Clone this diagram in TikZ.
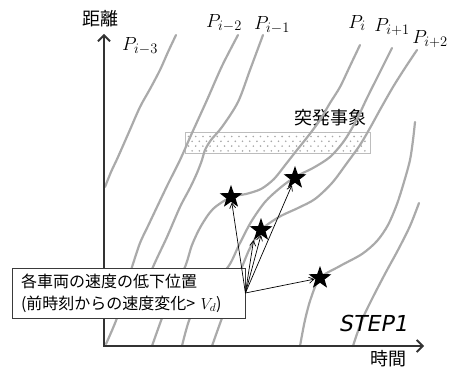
\RequirePackage{fix-cm}
\documentclass[tikz,border=0pt]{standalone}
\usepackage{fontspec}
\usepackage{tikz}
\usetikzlibrary{arrows.meta,calc,positioning,shapes.geometric}
\newfontfamily\jpfont{Noto Sans CJK JP}
\newfontfamily\stepfont[FakeSlant=0.2]{DejaVu Sans}
\DeclareMathSizes{19}{19}{14.5}{11}
\definecolor{axisgray}{HTML}{333333}
\definecolor{trackgray}{HTML}{AAAAAA}
\definecolor{eventgray}{HTML}{BDBDBD}
\definecolor{dotgray}{HTML}{A8A8A8}
\definecolor{notegray}{HTML}{3A3A3A}
\tikzset{
  axisline/.style={axisgray,line width=1.8pt,line join=miter,{Straight Barb[length=6pt,width=12pt]}-{Straight Barb[length=6pt,width=12pt]}},
  track/.style={trackgray,line width=2.2pt,line cap=round},
  eventbox/.style={eventgray,line width=0.8pt},
  eventdot/.style={dotgray},
  callout/.style={draw=notegray,fill=white,line width=0.8pt,align=left,text width=215pt,
    inner xsep=9pt,inner ysep=5pt,minimum height=50pt,font=\jpfont\fontsize{16}{22}\selectfont},
  marker/.style={star,star points=5,star point ratio=2.5,fill=black,minimum size=24pt,inner sep=0pt},
  pointer/.style={black,line width=0.7pt,-{Straight Barb[length=5pt,width=6pt]}},
  jplabel/.style={font=\jpfont\fontsize{18}{20}\selectfont,inner sep=0pt},
  plabel/.style={font=\fontsize{19}{22}\selectfont,inner sep=0pt}
}

\begin{document}
\begin{tikzpicture}[x=1pt,y=-1pt]
\useasboundingbox (0,0) rectangle (449,371);
\coordinate (origin) at (104,346);
\coordinate (ytip) at (104,34);
\coordinate (xtip) at (424,346);
% sudden event zone
\draw[eventbox] (185,132) rectangle (370,153);
\foreach \row in {0,...,3}
  \foreach \col in {0,...,24}
    \fill[eventdot] ({188.5+7.2*\col+3.6*mod(\row,2)},{136.5+4.8*\row}) circle (0.9);
\node[jplabel] (event) at (330,118) {突発事象};
% vehicle trajectories
\draw[track] plot[smooth] coordinates {(105,187) (111,172) (118,157) (129,132) (140,107) (150,89) (160,70) (168,52) (176,35)};
\draw[track] plot[smooth] coordinates {(106,344) (117,318) (124,292) (132,267) (140,243) (148,226) (157,207) (168,184) (180,160) (192,133) (207,100) (222,66) (238,35)};
\draw[track] plot[smooth] coordinates {(140,300) (153,267) (167,237) (180,207) (190,188) (197,173) (202,160) (205,150) (211,140) (222,127) (238,102) (250,70) (263,35)};
\draw[track] plot[smooth] coordinates {(152,346) (162,318) (172,292) (185,267) (192,245) (201,226) (213,209) (231,197) (246,194) (261,189) (274,179) (286,164) (297,150) (309,135) (320,120) (330,103) (340,87) (350,66) (360,45)};
\draw[track] plot[smooth] coordinates {(182,346) (190,318) (205,292) (228,267) (239,245) (251,222) (265,202) (280,188) (295,177) (313,168) (330,157) (344,141) (356,121) (367,98) (380,72) (392,48)};
\draw[track] plot[smooth] coordinates {(212,346) (222,318) (232,292) (242,267) (250,248) (261,230) (279,217) (298,208) (315,199) (332,183) (347,163) (360,145) (370,128) (381,108) (393,87) (405,68) (417,50)};
\draw[track] plot[smooth] coordinates {(300,346) (305,320) (311,298) (320,278) (340,266) (362,254) (377,241) (388,225) (397,204) (404,182) (410,160) (413,140) (415,122)};
\draw[track] plot[smooth] coordinates {(353,346) (362,320) (373,297) (386,272) (398,250) (410,226) (419,203)};
% axes
\draw[axisline] (ytip) -- (origin) -- (xtip);
\node[jplabel] (ylab) at (100,19) {距離};
\node[jplabel] (xlab) at (388,359) {時間};
\node[plabel] (p1) at (140,46) {$P_{i-3}$};
\node[plabel] (p2) at (224,23) {$P_{i-2}$};
\node[plabel] (p3) at (272,25) {$P_{i-1}$};
\node[plabel] (p4) at (357,23) {$P_{i}$};
\node[plabel] (p5) at (392,27) {$P_{i+1}$};
\node[plabel] (p6) at (430,39) {$P_{i+2}$};
\node[font=\stepfont\fontsize{22}{24}\selectfont,inner sep=0pt] (step) at (373,323) {STEP1};
% slowdown points
\node[callout] (note) at (128.5,293) {各車両の速度の低下位置\\(前時刻からの速度変化> $V_d$)};
\node[marker] (sA) at (231,197) {};
\node[marker] (sB) at (295,178) {};
\node[marker] (sC) at (261,230) {};
\node[marker] (sD) at (320,278) {};
\draw[pointer] (note.east) -- (sA);
\draw[pointer] (note.east) -- (sB);
\draw[pointer] (note.east) -- (sC.outer point 3);
\draw[pointer] (note.east) -- (sC.inner point 3);
\draw[pointer] (note.east) -- (sD);
\end{tikzpicture}
\end{document}
